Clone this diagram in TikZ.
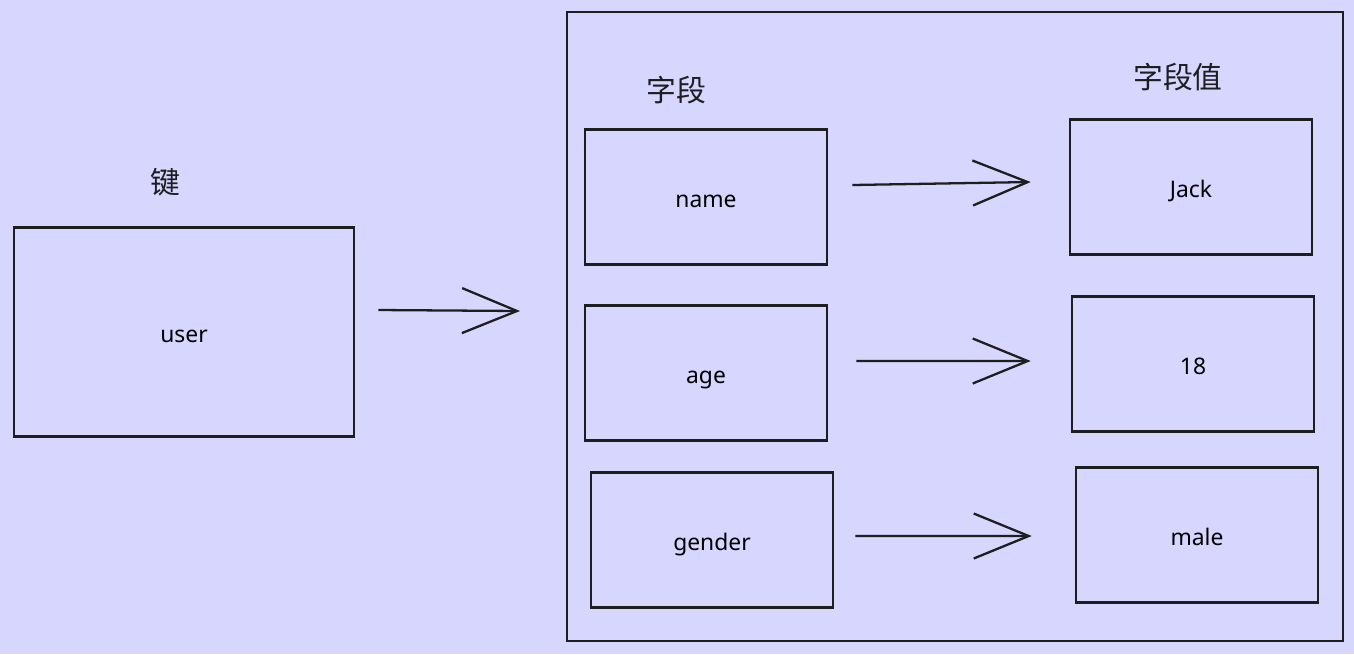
\documentclass[tikz,border=0pt]{standalone}
\usepackage{fontspec}
\setmainfont{Noto Sans}
\newfontfamily\cjk{Noto Sans CJK SC}
\usetikzlibrary{arrows.meta,positioning}
\definecolor{canvas}{HTML}{D6D6FF}
\definecolor{ink}{HTML}{1E1E1E}

\begin{document}
\begin{tikzpicture}[
        x=0.02cm,
        y=-0.02cm,
        box/.style={
                draw=ink,
                line width=1.5pt,
                minimum width=4.84cm,
                minimum height=2.7cm,
                text height=12pt,
                text depth=0pt,
                font=\fontsize{13}{15}\selectfont
                },
        head/.style={
                font=\cjk\fontsize{17}{19}\selectfont,
                text=ink
                },
        link/.style={
                draw=ink,
                line width=1.3pt,
                -{Straight Barb[length=1.1cm,width=0.9cm,line width=1.3pt]}
                }
        ]

%background
\fill[canvas] (0,0) rectangle (1354,654);

%outer frame
\draw[
        ink,
        line width=1.5pt
        ]
        (567,12) rectangle (1343,641);

%key
\node [box,minimum width=6.8cm,minimum height=4.18cm] at (184,332) (user) {user};
\node [head] at (165,182) (key) {键};

%field column
\node [head] at (676,90) (fieldhead) {字段};
\node [box] at (706,197) (name) {name};
\node [box] at (706,373) (age) {age};
\node [box] at (712,540) (gender) {gender};

%value column
\node [head] at (1178,77) (valuehead) {字段值};
\node [box] at (1191,187) (jack) {Jack};
\node [box] at (1193,364) (eighteen) {18};
\node [box] at (1197,535) (male) {male};

%arrows
\coordinate (userend) at (520,311);
\draw [link] (user.east) ++(23,-22) -- (userend);
\draw [link] ([xshift=0.48cm,yshift=0.24cm]name.east) -- ([xshift=-0.76cm,yshift=0.1cm]jack.west);
\draw [link] ([xshift=0.56cm,yshift=0.24cm]age.east) -- ([xshift=-0.8cm,yshift=0.06cm]eighteen.west);
\draw [link] ([xshift=0.42cm,yshift=0.08cm]gender.east) -- ([xshift=-0.86cm,yshift=-0.02cm]male.west);
\end{tikzpicture}
\end{document}
